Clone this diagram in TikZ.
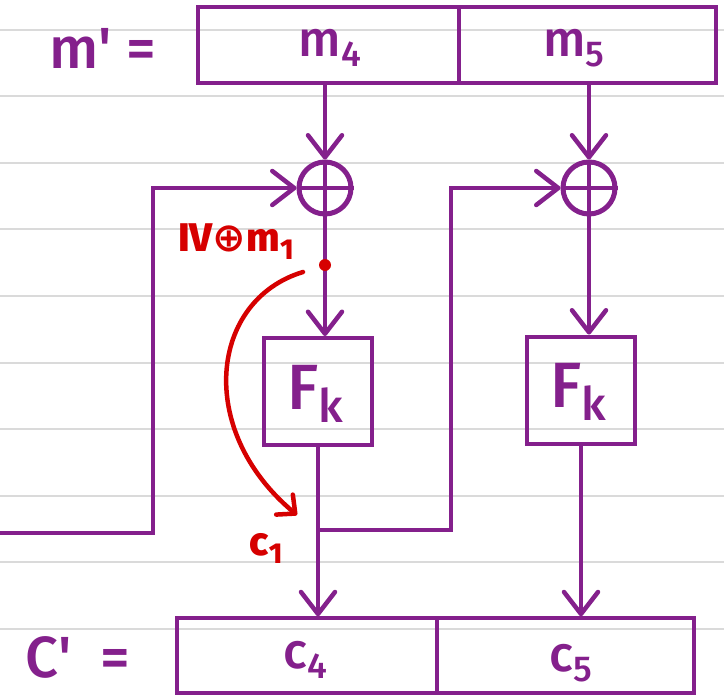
\documentclass[tikz,border=0pt]{standalone}
\usepackage{fontspec}
\setmainfont{Fira Sans Medium}
\newfontfamily\djv{DejaVu Sans}
\usetikzlibrary{arrows.meta}
\definecolor{pur}{RGB}{132,32,140}
\definecolor{redink}{RGB}{214,0,0}
\definecolor{ruleline}{RGB}{218,218,218}
\newcommand\lowsub[1]{\raisebox{-0.2em}{\scalebox{0.72}{#1}}}
\begin{document}
\begin{tikzpicture}[x=1pt,y=-1pt,
  wire/.style={pur, line width=3.2pt},
  arr/.style={-{Straight Barb[length=22pt,width=34pt,line width=4.5pt,round]}},
  cell/.style={draw=pur, line width=3.5pt, inner sep=0pt, minimum height=76pt},
  fbox/.style={draw=pur, line width=4pt, inner sep=0pt, minimum width=108pt, minimum height=107pt},
  xor/.style={circle, draw=pur, line width=5pt, inner sep=0pt, minimum size=52pt},
  lbl/.style={pur, inner sep=0pt, font=\fontsize{50}{50}\selectfont},
  big/.style={pur, inner sep=0pt, font=\fontsize{58}{58}\selectfont},
  fklbl/.style={pur, inner sep=0pt, font=\fontsize{64}{64}\selectfont},
  redlbl/.style={redink, inner sep=0pt, font=\bfseries\fontsize{40}{40}\selectfont}]
\useasboundingbox (0,0) rectangle (724,696);
\fill[white] (0,0) rectangle (724,696);
\foreach \k in {0,...,9} \draw[ruleline, line width=2pt] (0,{29.5+66.6*\k}) -- (724,{29.5+66.6*\k});
% top row
\node[cell, minimum width=261pt] (mc4) at (328.5,45) {};
\node[cell, minimum width=257pt] (mc5) at (587.5,45) {};
\node[lbl] (m4) at (330,48) {m\lowsub{4}};
\node[lbl] (m5) at (574,48) {m\lowsub{5}};
\node[big] (mp) at (103,48) {m\textquotesingle\ =};
% xors
\node[xor] (xor1) at (325,188) {};
\node[xor] (xor2) at (589,188) {};
\draw[pur, line width=4.5pt] (xor1.north) -- (xor1.south) (xor1.west) -- (xor1.east);
\draw[pur, line width=4.5pt] (xor2.north) -- (xor2.south) (xor2.west) -- (xor2.east);
% F boxes
\node[fbox] (fk1) at (318,391.5) {};
\node[fbox] (fk2) at (581,390) {};
\node[fklbl] (fkt1) at (315,394) {F\lowsub{k}};
\node[fklbl] (fkt2) at (578,392) {F\lowsub{k}};
% bottom row
\node[cell, minimum width=260pt, minimum height=75pt] (cc4) at (307,655.5) {};
\node[cell, minimum width=257pt, minimum height=75pt] (cc5) at (565.5,655.5) {};
\node[lbl] (c4) at (305,660) {c\lowsub{4}};
\node[lbl] (c5) at (571,663) {c\lowsub{5}};
\node[big] (cp) at (78,657) {C\textquotesingle\ \ =};
% arrows
\draw[wire,arr] (mc4.south -| xor1) -- (xor1.north);
\draw[wire,arr] (mc5.south -| xor2) -- (xor2.north);
\draw[wire,arr] (xor1.south) -- (xor1.south |- fk1.north);
\draw[wire,arr] (xor2.south) -- (xor2.south |- fk2.north);
\draw[wire,arr] (fk1.south) -- (fk1.south |- cc4.north);
\draw[wire,arr] (fk2.south) -- (fk2.south |- cc5.north);
% feedback lines
\coordinate (in1) at (0,533);
\coordinate (k1) at (153,533);
\draw[wire,arr] (in1) -- (k1) |- (xor1.west);
\coordinate (tap) at (318,530);
\coordinate (k2) at (451,530);
\draw[wire,arr] (tap) -- (k2) |- (xor2.west);
% red annotation
\node[circle, fill=redink, minimum size=12pt, inner sep=0pt] (dot) at (325,265) {};
\coordinate (rs) at (303,272);
\coordinate (re) at (297,515);
\draw[redink, line width=4.5pt, line cap=round, -{Straight Barb[length=14pt,width=26pt,round]}] (rs) .. controls (210,300) and (195,430) .. (re);
\node[redlbl] (ivm) at (236,242) {IV{\djv ⊕}m\lowsub{1}};
\node[redlbl] (c1) at (266,548) {c\lowsub{1}};
\end{tikzpicture}
\end{document}
